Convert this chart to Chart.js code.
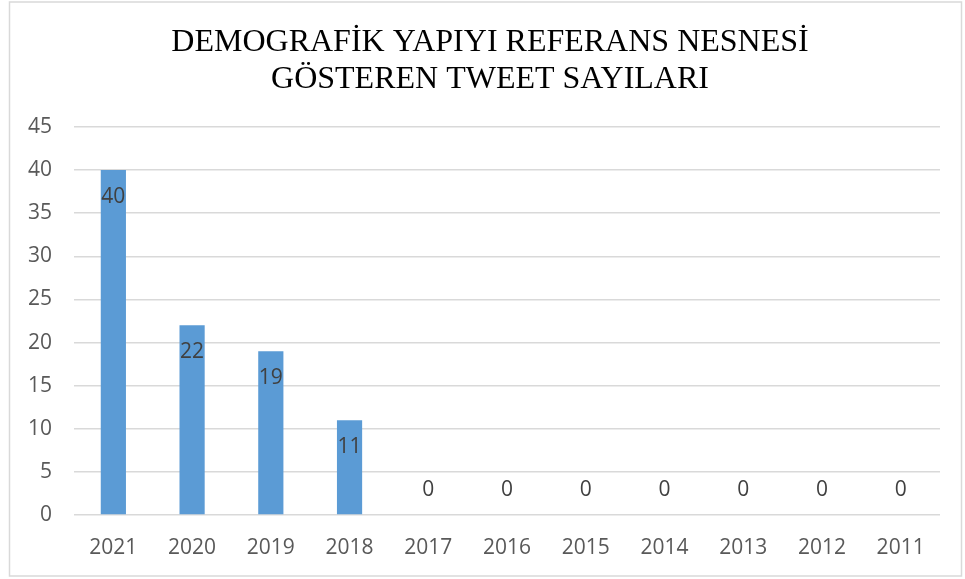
<!DOCTYPE html>
<html>
<head>
<meta charset="utf-8">
<script src="https://cdn.jsdelivr.net/npm/chart.js@4"></script>
<style>
  body { margin: 0; background: #fff; }
  #wrap { width: 965px; height: 579px; }
</style>
</head>
<body>
<div id="wrap"><canvas id="myChart"></canvas></div>
<script>
const years = ['2021','2020','2019','2018','2017','2016','2015','2014','2013','2012','2011'];
const tweetCounts = [40, 22, 19, 11, 0, 0, 0, 0, 0, 0, 0];
const titleLines = ['DEMOGRAFİK YAPIYI REFERANS NESNESİ', 'GÖSTEREN TWEET SAYILARI'];

// frame round the whole chart and the two line title
const frame = {
    id: 'frame',
    beforeDraw(chart) {
        const ctx = chart.ctx;
        ctx.save();
        ctx.fillStyle = '#ffffff';
        ctx.fillRect(0, 0, chart.width, chart.height);
        ctx.strokeStyle = '#d9d9d9';
        ctx.lineWidth = 1.5;
        ctx.strokeRect(9.5, 2, 952, 574);
        ctx.fillStyle = '#000000';
        ctx.font = '32px "Liberation Serif", "Times New Roman", serif';
        ctx.textAlign = 'center';
        ctx.textBaseline = 'alphabetic';
        ctx.fillText(titleLines[0], 490, 51);
        ctx.fillText(titleLines[1], 490, 88);
        ctx.restore();
    }
};

// value labels, inside the end of each bar (above the axis for zeros)
const barLabels = {
    id: 'barLabels',
    afterDatasetsDraw(chart) {
        const ctx = chart.ctx;
        const meta = chart.getDatasetMeta(0);
        ctx.save();
        ctx.font = '21px "Open Sans"';
        ctx.fillStyle = '#404040';
        ctx.textAlign = 'center';
        ctx.textBaseline = 'middle';
        meta.data.forEach(function(bar, i){
            const v = tweetCounts[i];
            const y = v > 0 ? bar.y + 27 : bar.y - 25;
            ctx.fillText(String(v), bar.x, y);
        });
        ctx.restore();
    }
};

const ctx = document.getElementById('myChart').getContext('2d');
const myChart = new Chart(ctx, {
    type: 'bar',
    data: {
        labels: years,
        datasets: [{
            data: tweetCounts,
            backgroundColor: '#5b9bd5',
            categoryPercentage: 1,
            barPercentage: 0.32
        }]
    },
    options: {
        responsive: true,
        maintainAspectRatio: false,
        animation: false,
        layout: { padding: { left: 15, right: 25, top: 127, bottom: 0 } },
        plugins: {
            legend: { display: false },
            tooltip: { enabled: false },
            title: { display: false }
        },
        scales: {
            x: {
                grid: { display: false },
                border: { display: false },
                ticks: { color: '#595959', font: { family: '"Open Sans"', size: 21 }, padding: 12, maxRotation: 0 },
                afterFit(scale) { scale.height = 64; }
            },
            y: {
                min: 0,
                max: 45,
                ticks: { stepSize: 5, color: '#595959', font: { family: '"Open Sans"', size: 21 }, padding: 22 },
                grid: { color: '#d9d9d9', lineWidth: 1.5, drawTicks: false },
                border: { display: false },
                afterFit(scale) { scale.width = 59; }
            }
        }
    },
    plugins: [frame, barLabels]
});
</script>
</body>
</html>
